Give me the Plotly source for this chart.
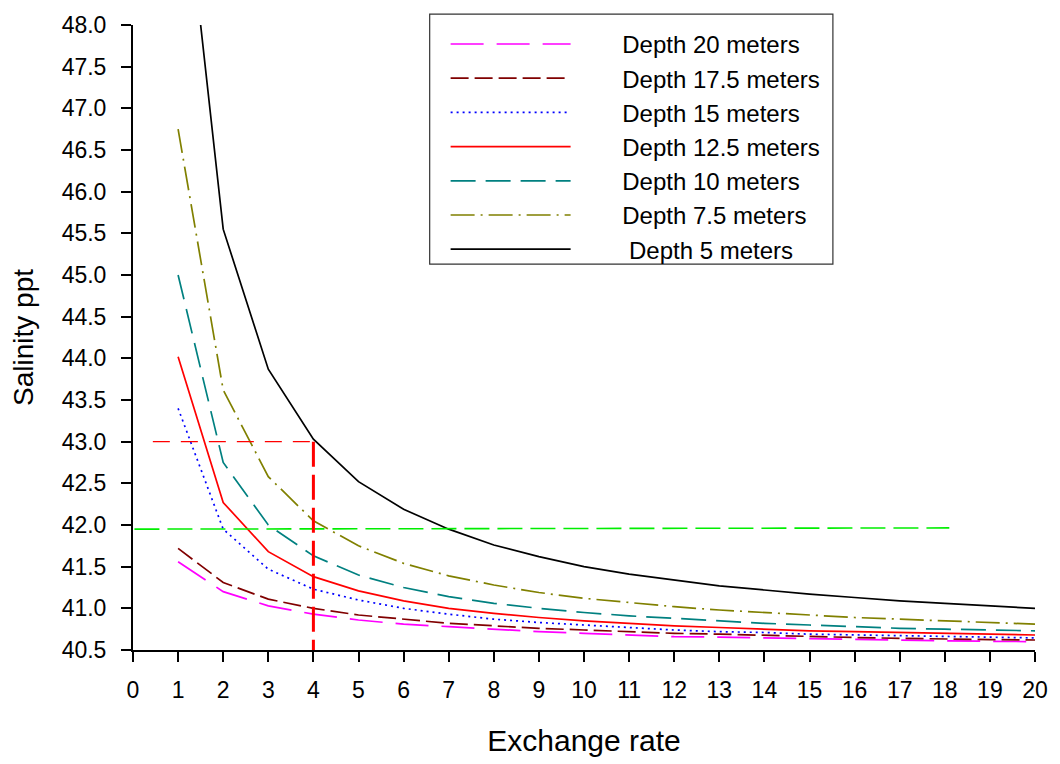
import plotly.graph_objects as go

exchange_rate = list(range(1, 21))

depth_20 = [41.56, 41.20, 41.03, 40.93, 40.86, 40.81, 40.78, 40.75, 40.72, 40.70,
            40.68, 40.66, 40.655, 40.645, 40.64, 40.63, 40.62, 40.61, 40.605, 40.60]
depth_17_5 = [41.72, 41.31, 41.11, 41.00, 40.92, 40.87, 40.82, 40.79, 40.76, 40.74,
              40.72, 40.70, 40.69, 40.675, 40.66, 40.65, 40.64, 40.63, 40.625, 40.62]
depth_15 = [43.40, 41.95, 41.47, 41.23, 41.10, 41.00, 40.93, 40.87, 40.83, 40.80,
            40.77, 40.74, 40.72, 40.71, 40.69, 40.68, 40.67, 40.66, 40.65, 40.645]
depth_12_5 = [44.02, 42.27, 41.68, 41.38, 41.21, 41.09, 41.00, 40.94, 40.89, 40.85,
              40.82, 40.79, 40.77, 40.75, 40.73, 40.72, 40.71, 40.70, 40.69, 40.68]
depth_10 = [45.00, 42.75, 42.00, 41.63, 41.40, 41.25, 41.14, 41.06, 41.00, 40.95,
            40.91, 40.88, 40.85, 40.82, 40.80, 40.78, 40.76, 40.75, 40.74, 40.73]
depth_7_5 = [46.75, 43.62, 42.58, 42.05, 41.75, 41.54, 41.39, 41.28, 41.19, 41.12,
             41.07, 41.02, 40.98, 40.95, 40.92, 40.89, 40.87, 40.85, 40.83, 40.81]
depth_5 = [50.45, 45.55, 43.87, 43.03, 42.52, 42.19, 41.95, 41.76, 41.62, 41.50,
           41.41, 41.34, 41.27, 41.22, 41.17, 41.13, 41.09, 41.06, 41.03, 41.00]

series_names = ["Depth 20 meters", "Depth 17.5 meters", "Depth 15 meters",
                "Depth 12.5 meters", "Depth 10 meters", "Depth 7.5 meters",
                "Depth 5 meters"]
series_values = [depth_20, depth_17_5, depth_15, depth_12_5, depth_10, depth_7_5, depth_5]
series_colors = ["#FF00FF", "#800000", "#0000FF", "#FF0000", "#008080", "#808000", "#000000"]
series_dash = ["33px,13px", "18px,6px", "2px,4px", "solid", "25px,10px",
               "24px,6px,2px,6px", "solid"]
legend_indent = [7, 7, 7, 7, 7, 7, 8]

# guide lines
target_salinity = 43.0
target_rate = 4
target_start = 0.44
axis_min_salinity = 40.5
threshold_salinity = [41.95, 41.965]
threshold_rate = [-0.7, 18.1]

x_ticks = list(range(0, 21))
y_ticks = [40.5 + 0.5 * i for i in range(16)]

fig = go.Figure()

for name, vals, col, dash, ind in zip(series_names, series_values, series_colors,
                                      series_dash, legend_indent):
    fig.add_trace(go.Scatter(x=exchange_rate, y=vals, mode="lines",
                             name="\u00a0" * ind + name,
                             line=dict(color=col, width=1.7, dash=dash)))

fig.add_trace(go.Scatter(x=threshold_rate, y=threshold_salinity, mode="lines",
                         line=dict(color="#00EE00", width=1.6, dash="25px,8px"),
                         showlegend=False))
fig.add_trace(go.Scatter(x=[target_start, target_rate], y=[target_salinity, target_salinity],
                         mode="lines", line=dict(color="#FF0000", width=1.4, dash="17px,11px"),
                         showlegend=False))
fig.add_trace(go.Scatter(x=[target_rate, target_rate], y=[target_salinity, axis_min_salinity],
                         mode="lines", line=dict(color="#FF0000", width=3, dash="25px,8px"),
                         showlegend=False))

fig.update_layout(
    width=1060, height=764,
    margin=dict(l=133, r=21, t=21, b=108),
    paper_bgcolor="white", plot_bgcolor="white",
    font=dict(family="Liberation Sans, Arial, sans-serif", color="black", size=23),
    legend=dict(x=(447 - 133) / 906, y=1.005, xanchor="left", yanchor="top",
                bgcolor="rgba(0,0,0,0)", borderwidth=0,
                font=dict(size=24), itemwidth=120, tracegroupgap=0),
    shapes=[dict(type="rect", xref="paper", yref="paper",
                 x0=(431 - 133) / 906, x1=(836 - 133) / 906,
                 y0=1 - (264 - 21) / 635, y1=1 + (21 - 10) / 635,
                 line=dict(color="#333333", width=1.2), fillcolor="rgba(0,0,0,0)",
                 layer="above")],
)

fig.update_xaxes(range=[0, 20], tickmode="array", tickvals=x_ticks,
                 ticks="outside", ticklen=10, tickwidth=2, tickcolor="black",
                 showline=True, linewidth=2, linecolor="black", showgrid=False,
                 zeroline=False, tickfont=dict(size=23), ticklabelstandoff=8,
                 title=dict(text="Exchange rate", font=dict(size=30), standoff=28))
fig.update_yaxes(range=[40.5, 48.0], tickmode="array", tickvals=y_ticks,
                 tickformat=".1f", ticks="outside", ticklen=10, tickwidth=2,
                 tickcolor="black", showline=True, linewidth=2, linecolor="black",
                 showgrid=False, zeroline=False, tickfont=dict(size=23),
                 ticklabelstandoff=10,
                 title=dict(text="Salinity ppt", font=dict(size=28), standoff=20))

fig.write_html("out.html", config={"displayModeBar": False},
               post_script="document.body.style.margin='0';document.body.style.overflow='hidden';")
